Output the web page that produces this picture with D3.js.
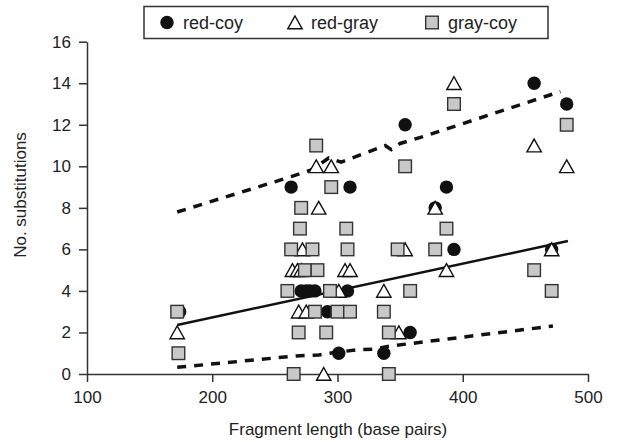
<!DOCTYPE html>
<html>
<head>
<meta charset="utf-8">
<script src="https://cdn.jsdelivr.net/npm/d3@7"></script>
<style>
  body { margin: 0; background: #fff; }
  svg text { font-family: "Liberation Sans", Arial, Helvetica, sans-serif; fill: #222; }
</style>
</head>
<body>
<svg id="chart" width="627" height="442"></svg>
<script>
// fragment length (bp) and number of substitutions for each comparison
const redCoyLen  = [174, 263, 271, 275, 278, 282, 292, 301, 308, 310, 337, 354, 358, 378, 387, 393, 457, 471, 483];
const redCoySubs = [3, 9, 4, 4, 4, 4, 3, 1, 4, 9, 1, 12, 2, 8, 9, 6, 14, 6, 13];

const redGrayLen  = [172, 264, 268, 271, 272, 269, 275, 283, 285, 289, 295, 301, 306, 310, 337, 349, 354, 378, 387, 393, 457, 471, 483];
const redGraySubs = [2, 5, 5, 5, 6, 3, 3, 10, 8, 0, 10, 4, 5, 5, 4, 2, 6, 8, 5, 14, 11, 6, 10];

const grayCoyLen  = [172, 173, 260, 263, 265, 269, 270, 271, 274, 280, 282, 283, 284, 291, 294, 295, 300, 307, 308, 310, 337, 341, 341, 348, 354, 358, 378, 387, 393, 457, 471, 483];
const grayCoySubs = [3, 1, 4, 6, 0, 2, 7, 8, 5, 6, 3, 11, 5, 2, 4, 9, 3, 7, 6, 3, 3, 0, 2, 6, 10, 4, 6, 7, 13, 5, 4, 12];

// regression line and the two dashed bounds
const fitLen = [172, 484];
const fitSubs = [2.36, 6.4];
const upperLen  = [172, 263, 280, 293, 303, 338, 343, 350, 372, 478];
const upperSubs = [7.8, 9.5, 9.85, 10.4, 10.2, 11.0, 10.8, 11.1, 11.5, 13.6];
const lowerLen  = [172, 267, 285, 300, 315, 330, 340, 472];
const lowerSubs = [0.32, 0.87, 0.92, 1.05, 1.16, 1.2, 1.33, 2.31];

const xTicks = [100, 200, 300, 400, 500];
const yTicks = [0, 2, 4, 6, 8, 10, 12, 14, 16];
const seriesNames = ["red-coy", "red-gray", "gray-coy"];

const svg = d3.select("#chart");

const x = d3.scaleLinear().domain([100, 500]).range([87, 588]);
const y = d3.scaleLinear().domain([0, 16]).range([374, 41.7]);

// axes
const xAxis = svg.append("g")
    .attr("transform", "translate(0," + y(0) + ")")
    .call(d3.axisBottom(x).tickValues(xTicks).tickSize(8).tickSizeOuter(0).tickPadding(9));
const yAxis = svg.append("g")
    .attr("transform", "translate(" + x(100) + ",0)")
    .call(d3.axisLeft(y).tickValues(yTicks).tickSize(8).tickSizeOuter(0).tickPadding(8));

[xAxis, yAxis].forEach(a => {
    a.selectAll("path, line").attr("stroke", "#333").attr("stroke-width", 1.5);
    a.selectAll("text").attr("font-size", 17).attr("fill", "#222")
        .attr("font-family", "'Liberation Sans', Arial, sans-serif");
});

svg.append("text")
    .attr("x", 338).attr("y", 435)
    .attr("text-anchor", "middle")
    .attr("font-size", 17)
    .text("Fragment length (base pairs)");

svg.append("text")
    .attr("transform", "translate(26,195) rotate(-90)")
    .attr("text-anchor", "middle")
    .attr("font-size", 17)
    .text("No. substitutions");

// lines
const line = d3.line().x(d => x(d[0])).y(d => y(d[1]));

svg.append("path")
    .datum(d3.zip(upperLen, upperSubs))
    .attr("d", line)
    .attr("fill", "none").attr("stroke", "#111")
    .attr("stroke-width", 3.5).attr("stroke-dasharray", "9,8");

svg.append("path")
    .datum(d3.zip(lowerLen, lowerSubs))
    .attr("d", line)
    .attr("fill", "none").attr("stroke", "#111")
    .attr("stroke-width", 3.5).attr("stroke-dasharray", "9,8");

svg.append("path")
    .datum(d3.zip(fitLen, fitSubs))
    .attr("d", line)
    .attr("fill", "none").attr("stroke", "#111")
    .attr("stroke-width", 2.5);

// markers: circles, then triangles, then squares on top
const tri = "M0,-6.5L7.2,6.3L-7.2,6.3Z";

svg.append("g").selectAll("circle")
    .data(d3.zip(redCoyLen, redCoySubs))
    .enter().append("circle")
    .attr("cx", d => x(d[0])).attr("cy", d => y(d[1]))
    .attr("r", 6.7)
    .attr("fill", "#111");

svg.append("g").selectAll("path")
    .data(d3.zip(redGrayLen, redGraySubs))
    .enter().append("path")
    .attr("d", tri)
    .attr("transform", d => "translate(" + x(d[0]) + "," + y(d[1]) + ")")
    .attr("fill", "#fff").attr("stroke", "#111").attr("stroke-width", 1.4);

svg.append("g").selectAll("rect")
    .data(d3.zip(grayCoyLen, grayCoySubs))
    .enter().append("rect")
    .attr("x", d => x(d[0]) - 6.3).attr("y", d => y(d[1]) - 6.3)
    .attr("width", 12.6).attr("height", 12.6)
    .attr("fill", "#c8c8c8").attr("stroke", "#333").attr("stroke-width", 1.4);

// legend
const legend = svg.append("g");
legend.append("rect")
    .attr("x", 144).attr("y", 6.5).attr("width", 404).attr("height", 32)
    .attr("fill", "#fff").attr("stroke", "#333").attr("stroke-width", 1.5);

const lx = [167, 295, 432];
legend.append("circle").attr("cx", lx[0]).attr("cy", 22.5).attr("r", 6.7).attr("fill", "#111");
legend.append("path").attr("d", tri)
    .attr("transform", "translate(" + lx[1] + ",22.5)")
    .attr("fill", "#fff").attr("stroke", "#111").attr("stroke-width", 1.4);
legend.append("rect").attr("x", lx[2] - 6.3).attr("y", 22.5 - 6.3).attr("width", 12.6).attr("height", 12.6)
    .attr("fill", "#c8c8c8").attr("stroke", "#333").attr("stroke-width", 1.4);

legend.selectAll("text.lab")
    .data(seriesNames)
    .enter().append("text")
    .attr("class", "lab")
    .attr("x", (d, i) => lx[i] + 16)
    .attr("y", 28.5)
    .attr("font-size", 18)
    .text(d => d);
</script>
</body>
</html>
